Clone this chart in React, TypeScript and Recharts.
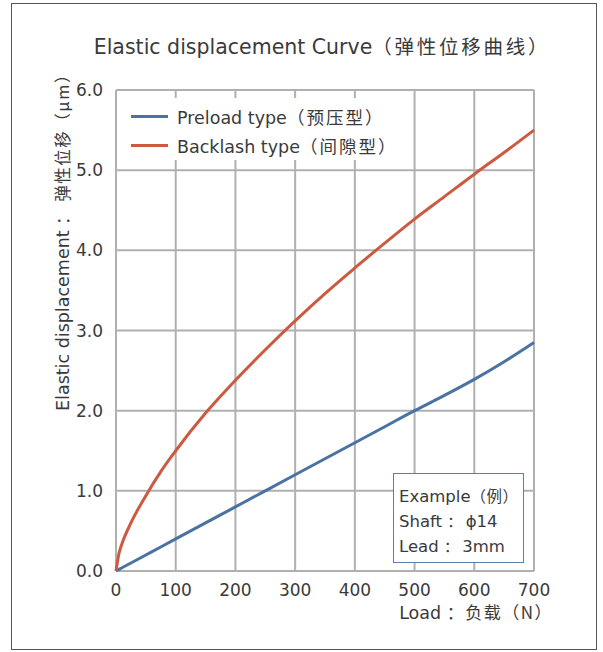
import React from 'react';
import { LineChart, Line, XAxis, YAxis, CartesianGrid, Legend } from 'recharts';

const FONT = '"DejaVu Sans", "Noto Sans CJK SC", sans-serif';
const CJK_FONT = '"Noto Sans CJK SC", "DejaVu Sans", sans-serif';
const TEXT = '#3a3a3a';

// load (N)
const loads = [0, 5, 10, 25, 50, 75, 100, 150, 200, 250, 300, 350, 400, 450, 500, 550, 600, 650, 700];
// elastic displacement (µm)
const preload = [0, 0.02, 0.04, 0.1, 0.2, 0.3, 0.4, 0.6, 0.8, 1.0, 1.2, 1.4, 1.6, 1.8, 2.0, 2.19, 2.39, 2.61, 2.85];
const backlash = [0, 0.22, 0.34, 0.6, 0.94, 1.24, 1.5, 1.97, 2.38, 2.76, 3.12, 3.46, 3.78, 4.09, 4.39, 4.67, 4.95, 5.22, 5.5];

const xTicks = [0, 100, 200, 300, 400, 500, 600, 700];
const yTicks = [0, 1, 2, 3, 4, 5, 6];

const seriesNames = [['Preload type', '（预压型）'], ['Backlash type', '（间隙型）']];
const seriesColors = ['#4a72a3', '#cc5a40'];

const data = loads.map((load, i) => ({ load, preload: preload[i], backlash: backlash[i] }));

const cjk = (s: string, size: number, spacing = 0) => (
  <span style={{ fontFamily: CJK_FONT, fontSize: size, letterSpacing: spacing }}>{s}</span>
);

const LegendBox = () => (
  <div style={{ background: '#fff', width: 283, height: 62, fontFamily: FONT, fontSize: 17.5, color: TEXT }}>
    {seriesNames.map(([name, zh], i) => (
      <div key={name} style={{ display: 'flex', alignItems: 'center', height: 29, paddingTop: i === 0 ? 4 : 0, whiteSpace: 'nowrap' }}>
        <span style={{ display: 'inline-block', width: 37, height: 3, marginLeft: 14, marginRight: 9, background: seriesColors[i] }} />
        <span>{name}{cjk(zh, 17.5, 2)}</span>
      </div>
    ))}
  </div>
);

export default function App() {
  return (
    <div style={{ position: 'absolute', left: 0, top: 0, width: 603, height: 652, background: '#fff' }}>
      <div style={{ position: 'absolute', left: 11, top: 3, width: 584, height: 645, border: '1.5px solid #555' }} />
      <div style={{ position: 'absolute', left: 0, top: 31, width: 644, textAlign: 'center', whiteSpace: 'nowrap', fontFamily: FONT, fontSize: 20.5, color: TEXT }}>
        Elastic displacement Curve{cjk('（弹性位移曲线）', 19.5, 2.75)}
      </div>
      <div style={{ position: 'absolute', left: 62, top: 238, transform: 'translate(-50%, -50%) rotate(-90deg)', whiteSpace: 'nowrap', fontFamily: FONT, fontSize: 17.5, color: TEXT }}>
        Elastic displacement {cjk('： 弹性位移（µm）', 16.5, 1.5)}
      </div>
      <div style={{ position: 'absolute', right: 50, top: 599, whiteSpace: 'nowrap', fontFamily: FONT, fontSize: 17.5, color: TEXT }}>
        Load {cjk('：负载（N）', 17, 1.5)}
      </div>
      <div style={{ position: 'absolute', left: 0, top: 0 }}>
        <LineChart width={603} height={652} data={data} margin={{ top: 90, right: 69, left: 56, bottom: 51 }}>
          <CartesianGrid stroke="#b0b0b0" strokeWidth={2} />
          <XAxis
            dataKey="load"
            type="number"
            domain={[0, 700]}
            ticks={xTicks}
            height={30}
            axisLine={false}
            tickLine={false}
            tickSize={0}
            tickMargin={13}
            tick={{ fill: TEXT, fontSize: 17, fontFamily: FONT }}
          />
          <YAxis
            type="number"
            domain={[0, 6]}
            ticks={yTicks}
            width={60}
            axisLine={false}
            tickLine={false}
            tickSize={0}
            tickMargin={13}
            tickFormatter={(v: number) => v.toFixed(1)}
            tick={{ fill: TEXT, fontSize: 17, fontFamily: FONT }}
          />
          <Line type="monotone" dataKey="preload" stroke={seriesColors[0]} strokeWidth={3} dot={false} isAnimationActive={false} />
          <Line type="monotone" dataKey="backlash" stroke={seriesColors[1]} strokeWidth={3} dot={false} isAnimationActive={false} />
          <Legend
            layout="horizontal"
            verticalAlign="middle"
            align="center"
            content={<LegendBox />}
            wrapperStyle={{ top: 98, left: 117, width: 283, height: 62 }}
          />
        </LineChart>
      </div>
      <div style={{ position: 'absolute', left: 393, top: 473, width: 131, height: 90, border: '1.5px solid #5b7db1', background: '#fff', fontFamily: FONT, fontSize: 16.5, color: TEXT, lineHeight: '24px', paddingTop: 9, paddingLeft: 5, boxSizing: 'border-box' }}>
        <div style={{ whiteSpace: 'nowrap' }}>Example{cjk('（例）', 15.5, 0.5)}</div>
        <div style={{ whiteSpace: 'nowrap' }}>Shaft {cjk('： ', 15)}ϕ14</div>
        <div style={{ whiteSpace: 'nowrap' }}>Lead {cjk('： ', 15)}3mm</div>
      </div>
    </div>
  );
}
